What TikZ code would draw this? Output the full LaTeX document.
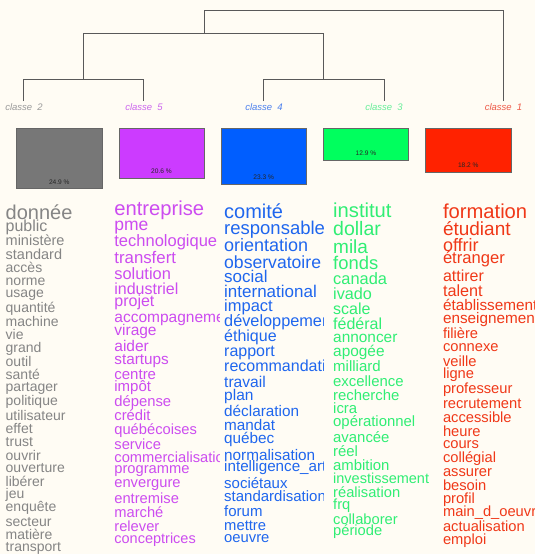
\documentclass[tikz,border=0pt]{standalone}
\usepackage{fontspec}
\setmainfont{Liberation Sans}
\definecolor{bg}{HTML}{FFFCF4}
\definecolor{cgrey}{HTML}{777777}
\definecolor{cpurp}{HTML}{CC3BFF}
\definecolor{cblue}{HTML}{005EFF}
\definecolor{cgreen}{HTML}{00FF5E}
\definecolor{cred}{HTML}{FF2200}
\definecolor{tgrey}{HTML}{858585}
\definecolor{tpurp}{HTML}{CC4CF0}
\definecolor{tblue}{HTML}{1F66EE}
\definecolor{tgreen}{HTML}{30EE74}
\definecolor{tred}{HTML}{F03818}
\definecolor{lgrey}{HTML}{9A9A9A}
\definecolor{lpurp}{HTML}{CC66EE}
\definecolor{lblue}{HTML}{4C80EE}
\definecolor{lgreen}{HTML}{66EE99}
\definecolor{lred}{HTML}{EE5A48}
\begin{document}
\begin{tikzpicture}[x=1pt,y=-1pt,
  dendro/.style={draw=black!65,line width=0.9pt},
  clab/.style={anchor=base,inner sep=0pt,font=\fontsize{9.5}{9.5}\selectfont\itshape},
  cbox/.style={draw=black!60,line width=0.7pt},
  pct/.style={anchor=base,inner sep=0pt,font=\fontsize{6.6}{6.6}\selectfont,text=black!85},
  word/.style={anchor=base west,inner sep=0pt}]
\fill[bg] (0,0) rectangle (535,554);
\useasboundingbox (0,0) rectangle (535,554);
% dendrogram
\coordinate (r) at (204,10.5);
\coordinate (rl) at (83.7,33);
\coordinate (rr) at (323.7,33);
\coordinate (l2) at (23.3,101); \coordinate (l5) at (143.7,101);
\coordinate (l4) at (263.7,101); \coordinate (l3) at (384,101);
\coordinate (l1) at (503,101);
\draw[dendro] (l1) |- (r) -- (r|-rl);
\draw[dendro] (rl) -- (rr);
\draw[dendro] (rl) -- (rl|-0,79); \draw[dendro] (rr) -- (rr|-0,79);
\draw[dendro] (l2) |- (l5|-0,79) -- (l5);
\draw[dendro] (l4) |- (l3|-0,79) -- (l3);
% class labels
\node[clab,text=lgrey] (c2) at (24,110) {classe\ \ 2};
\node[clab,text=lpurp] (c5) at (144,110) {classe\ \ 5};
\node[clab,text=lblue] (c4) at (264,110) {classe\ \ 4};
\node[clab,text=lgreen] (c3) at (384,110) {classe\ \ 3};
\node[clab,text=lred] (c1) at (503.5,110) {classe\ \ 1};
% boxes
\draw[cbox,fill=cgrey] (16.7,128.7) rectangle (102,188.7);
\draw[cbox,fill=cpurp] (119,128.7) rectangle (204,178.7);
\draw[cbox,fill=cblue] (221,128.7) rectangle (306.3,184.7);
\draw[cbox,fill=cgreen] (323.3,128.7) rectangle (408.7,160);
\draw[cbox,fill=cred] (425.7,128.7) rectangle (511,172.7);
\node[pct] (p2) at (59.3,184) {24.9 \%};
\node[pct] (p5) at (161.5,173.8) {20.6 \%};
\node[pct] (p4) at (263.7,179.8) {23.3 \%};
\node[pct] (p3) at (366,155.4) {12.9 \%};
\node[pct] (p1) at (468.3,167.8) {18.2 \%};
% class 2 words
\foreach \w/\s/\y [count=\i] in {donnée/20/219,public/16/231.5,ministère/14.5/245.7,standard/14.5/259,accès/14/272,norme/14/285,usage/14/297,quantité/14/312.3,machine/14/326,vie/14/339.3,grand/14/352.3,outil/14/366,santé/14/379.3,partager/14/391.7,politique/14/405.7,utilisateur/14/420,effet/14/433.3,trust/14/446,ouvrir/14/460,ouverture/14/472.7,libérer/14/486.7,jeu/14/498.3,enquête/14/511.7,secteur/14/526,matière/14/539.3,transport/14/551.7}
  \node[word,text=tgrey,font=\fontsize{\s}{\s}\selectfont] (g\i) at (5.5,\y) {\w};
% class 5 words
\begin{scope}
\clip (110,190) rectangle (219.5,554);
\foreach \w/\s/\y [count=\i] in {entreprise/20.2/215.7,pme/17.5/230,technologique/16.5/246.7,transfert/16.8/263.3,solution/16.4/279,industriel/16/294.3,projet/16/306.7,accompagnement/15.5/322.3,virage/15.5/335,aider/15.5/351,startups/15.3/364.3,centre/15/379.3,impôt/15/391.7,dépense/14.8/406,crédit/14.8/420.7,québécoises/14.7/434.3,service/14.7/449,commercialisation/14.7/462.7,programme/14.7/473.3,envergure/14.7/487.3,entremise/14.7/503.3,marché/14.7/517.7,relever/14.7/531,conceptrices/14.5/543.3}
  \node[word,text=tpurp,font=\fontsize{\s}{\s}\selectfont] (v\i) at (114.2,\y) {\w};
\end{scope}
% class 4 words
\begin{scope}
\clip (215,190) rectangle (323.5,554);
\foreach \w/\s/\y [count=\i] in {comité/20/218.3,responsable/18.5/234.3,orientation/18/251.7,observatoire/17.6/268.3,social/17/282.3,international/17/297.7,impact/16.5/311.7,développement/16.3/326.7,éthique/16/341.7,rapport/16/356,recommandation/16/371.7,travail/15.6/387.3,plan/15.5/400.7,déclaration/15.3/416.7,mandat/15.3/430,québec/15.3/443.3,normalisation/15.3/460,intelligence\_artificielle/15.2/471.7,sociétaux/15/488.3,standardisation/15/501.7,forum/15/516.7,mettre/14.8/530.7,oeuvre/14.8/542.3}
  \node[word,text=tblue,font=\fontsize{\s}{\s}\selectfont] (b\i) at (224,\y) {\w};
\end{scope}
% class 3 words
\foreach \w/\s/\y [count=\i] in {institut/20.2/217.7,dollar/19.5/235,mila/19/253.3,fonds/18.4/269,canada/16.4/284.3,ivado/16.2/299,scale/16/314,fédéral/16/329,annoncer/15.4/342.3,apogée/15.4/356.7,milliard/15/371,excellence/14.9/386.7,recherche/14.9/400,icra/14.9/413.3,opérationnel/14.9/426.7,avancée/14.9/442.3,réel/14.9/456,ambition/14.9/470,investissement/14.5/483.3,réalisation/14.7/497.7,frq/14.7/509.3,collaborer/14.7/524,période/14.7/535.7}
  \node[word,text=tgreen,font=\fontsize{\s}{\s}\selectfont] (n\i) at (333,\y) {\w};
% class 1 words
\begin{scope}
\clip (436,190) rectangle (535,554);
\foreach \w/\s/\y [count=\i] in {formation/20.2/218.3,étudiant/19/235,offrir/18/251.7,étranger/16.6/263.3,attirer/16/281,talent/16.2/296,établissement/15.3/310,enseignement/15.3/323.3,filière/14.7/338.3,connexe/14.7/351.7,veille/14.7/366.7,ligne/14.7/378.3,professeur/14.7/393.3,recrutement/14.7/408.3,accessible/14.7/422.3,heure/14.7/436,cours/14.7/448.3,collégial/14.7/462.7,assurer/14.7/476,besoin/14.7/490.7,profil/14.7/503.3,main\_d\_oeuvre/14.7/516.7,actualisation/14.7/531.7,emploi/14.7/544.3}
  \node[word,text=tred,font=\fontsize{\s}{\s}\selectfont] (f\i) at (442.8,\y) {\w};
\end{scope}
\end{tikzpicture}
\end{document}
